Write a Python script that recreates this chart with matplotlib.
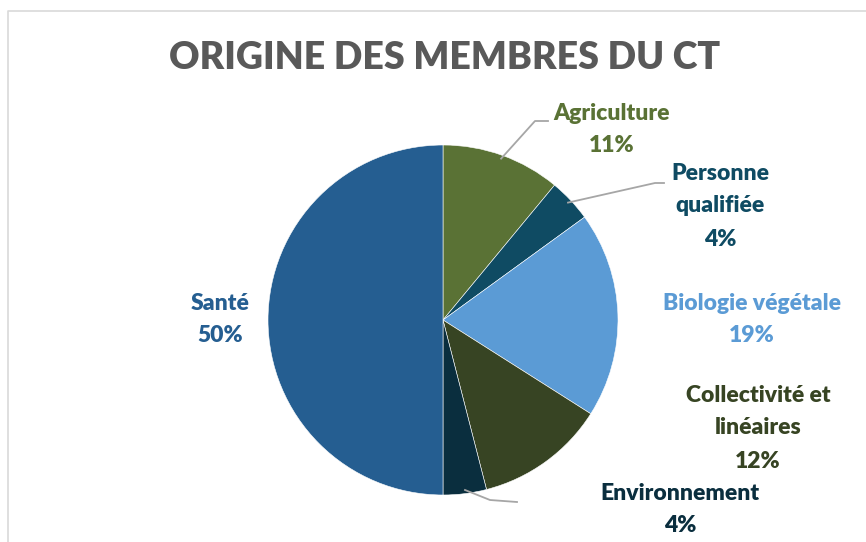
import numpy as np
import matplotlib
matplotlib.use("Agg")
import matplotlib.pyplot as plt

# data (clockwise from 12 o'clock)
categories = ["Agriculture", "Personne\nqualifiée", "Biologie végétale",
              "Collectivité et\nlinéaires", "Environnement", "Santé"]
shares = [11, 4, 19, 12, 4, 50]
colors = ["#5a7235", "#0f4b63", "#5b9bd5", "#374423", "#0a2e3e", "#255e91"]

W, H = 866, 542
fig = plt.figure(figsize=(W / 100, H / 100), dpi=100)
ax = fig.add_axes([0, 0, 1, 1])

plt.rcParams["font.family"] = ["Lato", "DejaVu Sans"]

# chart area border (top and left visible)
ax.plot([8, 8, W], [0, H - 11, H - 11], color="#d9d9d9", lw=1.2, zorder=0)

cx, cy, r = 443, H - 320, 175
wedges, _ = ax.pie(shares, colors=colors, startangle=90, counterclock=False,
                   center=(cx, cy), radius=r, frame=True,
                   wedgeprops=dict(edgecolor="white", linewidth=0.4))
ax.set_xlim(0, W)
ax.set_ylim(0, H)
ax.set_aspect("equal")
ax.axis("off")

ax.text(W / 2 + 12, H - 58, "ORIGINE DES MEMBRES DU CT", ha="center", va="center",
        fontsize=27, fontweight="heavy", color="#595959")

# label centres (pixel coords from top)
label_pos = [(612, 113), (720, 173), (752, 303), (758, 395), (680, 493), (220, 303)]
line_gap = 33
for cat, val, col, (lx, ly) in zip(categories, shares, colors, label_pos):
    lines = cat.split("\n") + [f"{val}%"]
    for i, t in enumerate(lines):
        ax.text(lx, H - (ly + i * line_gap), t, ha="center", va="center",
                fontsize=16.5, fontweight="heavy", color=col)

# leader lines for small/outer labels
def edge_point(w, frac=1.0):
    ang = np.deg2rad((w.theta1 + w.theta2) / 2)
    return cx + r * frac * np.cos(ang), cy + r * frac * np.sin(ang)

leaders = {0: [(535, 121), (548, 121)], 1: [(655, 183), (664, 183)],
           4: [(490, 500), (517, 502)]}
for idx, pts in leaders.items():
    w = wedges[idx]
    if idx == 4:
        x0, y0 = 465, H - 490
    else:
        x0, y0 = edge_point(w, 0.98)
    xs = [x0] + [p[0] for p in pts]
    ys = [y0] + [H - p[1] for p in pts]
    ax.plot(xs, ys, color="#a6a6a6", lw=1.3, zorder=3)

fig.savefig("out.png", dpi=100, facecolor="white")
